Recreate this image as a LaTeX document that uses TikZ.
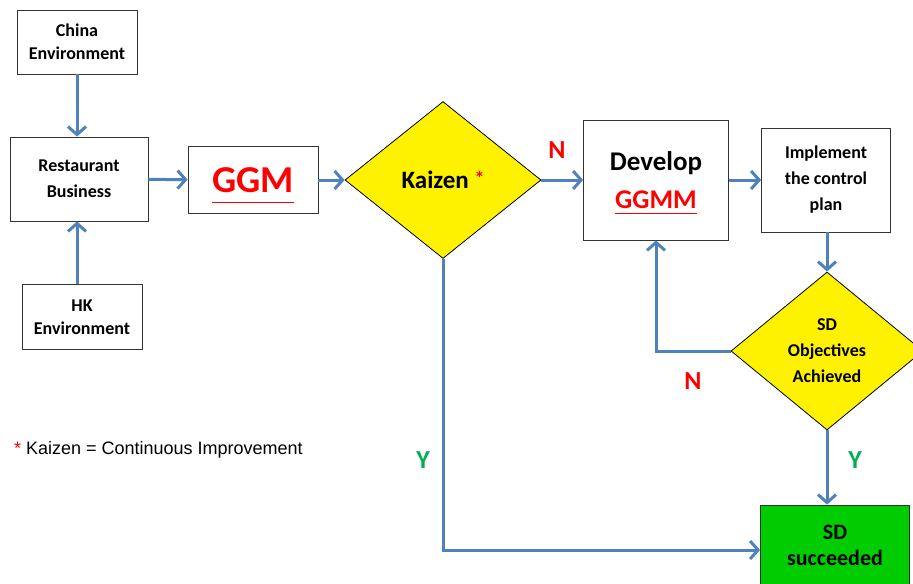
\documentclass[tikz,border=0pt]{standalone}
\usepackage{fontspec}
\setmainfont{Carlito}
\newfontfamily\arialfont{Liberation Sans}
\usetikzlibrary{positioning,shapes.geometric,arrows.meta,calc}
\definecolor{flowblue}{RGB}{79,129,189}
\definecolor{ggmred}{RGB}{255,0,0}
\definecolor{yesgreen}{RGB}{0,176,80}
\definecolor{donegreen}{RGB}{0,204,0}
\tikzset{
	box/.style={draw=black!80, fill=white, align=center, inner sep=0pt,
		font=\bfseries\fontsize{9}{13}\selectfont},
	decision/.style={diamond, draw=black, fill=yellow, align=center, inner sep=0pt,
		font=\bfseries\fontsize{9}{13}\selectfont},
	flow/.style={draw=flowblue, line width=1.5pt, -{Straight Barb[length=4pt,width=9pt]}},
	nomark/.style={text=ggmred, font=\bfseries\fontsize{13}{13}\selectfont},
	yesmark/.style={text=yesgreen, font=\bfseries\fontsize{13}{13}\selectfont},
}
% red text with a thin rule below it, the rule taking no room
\newcommand{\redul}[2][3pt]{{\color{ggmred}\setbox0\hbox{#2}\copy0\llap{\smash{\rule[-#1]{\wd0}{0.6pt}}}}}

\begin{document}
\begin{tikzpicture}[x=0.5pt,y=-0.5pt]
		\useasboundingbox (0,0) rectangle (913,583);
		\clip (0,0) rectangle (913,583);
		%
		% inputs on the left
		\node[box, minimum width=60pt, minimum height=32pt,
			font=\bfseries\fontsize{9}{11.5}\selectfont] (china) at (77,42) {China\\Environment};
		\node[box, minimum width=69pt, minimum height=42pt] (rest) at (79,179) {Restaurant\\Business};
		\node[box, minimum width=60pt, minimum height=32.5pt,
			font=\bfseries\fontsize{9}{11.5}\selectfont] (hk) at (82,317) {HK\\Environment};
		%
		% main row
		\node[box, minimum width=65pt, minimum height=33.5pt,
			font=\bfseries\fontsize{19}{19}\selectfont] (ggm) at (253,180) {\redul[5.5pt]{GGM}};
		\node[decision, minimum width=98pt, minimum height=78.5pt,
			font=\bfseries\fontsize{12.5}{12.5}\selectfont] (kaizen) at (443,180)
			{Kaizen~\raisebox{1.5pt}{\color{ggmred}\fontsize{10}{10}\selectfont*}};
		\node[box, minimum width=72.5pt, minimum height=60pt,
			font=\bfseries\fontsize{13.5}{19}\selectfont] (develop) at (656,180) {Develop\\\redul[2.8pt]{GGMM}};
		\node[box, minimum width=64.5pt, minimum height=52pt] (impl) at (826,180) {Implement\\the control\\plan};
		\node[decision, minimum width=96pt, minimum height=79pt] (sd) at (827,351) {SD\\Objectives\\Achieved};
		\node[box, fill=donegreen, minimum width=74.5pt, minimum height=40pt,
			font=\bfseries\fontsize{11}{13}\selectfont] (done) at (835,545) {SD\\succeeded};
		%
		% branch labels
		\node[nomark] (n1) at (557,150) {N};
		\node[nomark] (n2) at (693,381) {N};
		\node[yesmark] (y1) at (423,460) {Y};
		\node[yesmark] (y2) at (855,460) {Y};
		%
		\node[anchor=west, font=\arialfont\fontsize{9}{9}\selectfont] (note) at (7,450)
			{{\color{ggmred}*} Kaizen = Continuous Improvement};
		%
		\draw[flow] (china.south) -- (china.south |- rest.north);
		\draw[flow] (hk.north -| china) -- (rest.south -| china);
		\draw[flow] (rest) -- (ggm);
		\draw[flow] (ggm) -- (kaizen);
		\draw[flow] (kaizen) -- (develop);
		\draw[flow] (develop) -- (impl);
		\draw[flow] (impl.south -| sd) -- (sd.north);
		\draw[flow] (sd.west) -| (develop.south);
		\draw[flow] (sd.south) -- (done.north -| sd);
		\draw[flow] (kaizen.south) |- ($(done.west)+(0,5)$);
	\end{tikzpicture}
\end{document}
